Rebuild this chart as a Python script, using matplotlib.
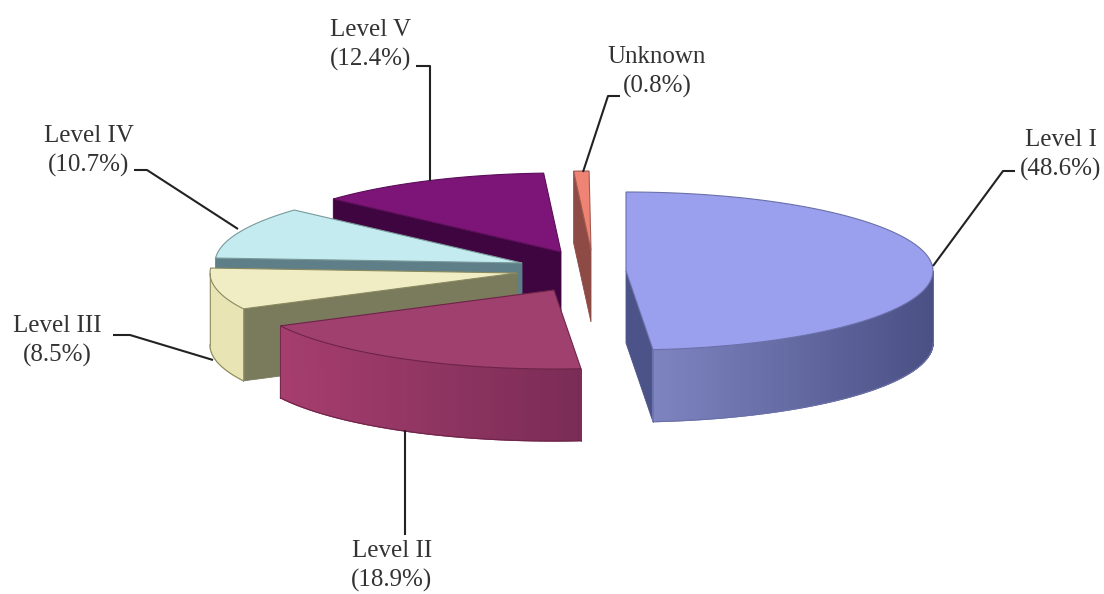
import numpy as np
import matplotlib
matplotlib.use("Agg")
import matplotlib.pyplot as plt
from matplotlib.colors import to_rgb
from matplotlib.patches import Polygon

names = ["Level I", "Level II", "Level III", "Level IV", "Level V", "Unknown"]
values = [48.6, 18.9, 8.5, 10.7, 12.4, 0.8]

# layout in image pixels
centers = [(626, 271), (554, 290), (517, 273), (522, 263), (561, 252), (591, 250)]
label_pos = [(1061, 155), (392, 566), (57, 341), (89, 151), (371, 45), (657, 72)]
leaders = [
    [(933, 266), (1003, 171), (1015, 171)],
    [(405, 430), (405, 535)],
    [(213, 360), (130, 335), (113, 335)],
    [(238, 229), (147, 170), (134, 170)],
    [(430, 181), (430, 66), (416, 66)],
    [(583, 172), (608, 96), (620, 96)],
]

top_colors = ["#9a9fee", "#a0406e", "#f0ecc4", "#c4ecf0", "#7d1478", "#f08474"]
face_colors = ["#4c5388", "#7a2c55", "#7a7a5c", "#5f7f88", "#3f0540", "#8e4a44"]
side_left = ["#7e84c0", "#a63e6e", "#e8e4b4", "#a0c0c4", "#5a0e58", "#b05a50"]
side_right = ["#4a5084", "#7a2c56", "#e8e4b4", "#a0c0c4", "#5a0e58", "#b05a50"]
edge_colors = ["#6a70a8", "#6e2448", "#8a8a60", "#7a9a9a", "#5a0e58", "#a05a50"]

RX = 307
RY = 79
DEPTH = 72


def rim(cx, cy, a0, a1, n=120):
    t = np.radians(np.linspace(a0, a1, n))
    return cx + RX * np.sin(t), cy - RY * np.cos(t)


def draw_slice(ax, i, a0, a1):
    cx, cy = centers[i]
    x, y = rim(cx, cy, a0, a1)

    # cut faces, only those turned toward the viewer
    if a0 > 180:
        px, py = x[0], y[0]
        ax.add_patch(Polygon([(cx, cy), (px, py), (px, py + DEPTH), (cx, cy + DEPTH)],
                             closed=True, fc=face_colors[i], ec=face_colors[i], lw=0.6))
    if a1 < 180:
        px, py = x[-1], y[-1]
        ax.add_patch(Polygon([(cx, cy), (px, py), (px, py + DEPTH), (cx, cy + DEPTH)],
                             closed=True, fc=face_colors[i], ec=face_colors[i], lw=0.6))

    # outer wall with horizontal shading
    lo, hi = max(a0, 90), min(a1, 270)
    if hi > lo:
        wx, wy = rim(cx, cy, lo, hi)
        c1 = np.array(to_rgb(side_left[i]))
        c2 = np.array(to_rgb(side_right[i]))
        xmin, xmax = wx.min(), wx.max()
        for k in range(len(wx) - 1):
            f = ((wx[k] + wx[k + 1]) / 2 - xmin) / (xmax - xmin)
            col = c1 + (c2 - c1) * f
            ax.add_patch(Polygon([(wx[k], wy[k]), (wx[k + 1], wy[k + 1]),
                                  (wx[k + 1], wy[k + 1] + DEPTH), (wx[k], wy[k] + DEPTH)],
                                 closed=True, fc=col, ec=col, lw=0.9))
        ax.plot(wx, wy + DEPTH, color=edge_colors[i], lw=0.8)
        ax.plot([wx[0], wx[0]], [wy[0], wy[0] + DEPTH], color=edge_colors[i], lw=0.6)
        ax.plot([wx[-1], wx[-1]], [wy[-1], wy[-1] + DEPTH], color=edge_colors[i], lw=0.6)

    # top
    ax.add_patch(Polygon(np.column_stack([np.r_[cx, x], np.r_[cy, y]]), closed=True,
                         fc=top_colors[i], ec=edge_colors[i], lw=0.8))


def main():
    fig = plt.figure(figsize=(11.04, 5.94), dpi=100)
    ax = fig.add_axes([0, 0, 1, 1])
    ax.set_xlim(0, 1104)
    ax.set_ylim(594, 0)
    ax.axis("off")

    stops = np.r_[0, np.cumsum(values)] * 3.6

    # back to front
    for i in [5, 4, 3, 2, 0, 1]:
        draw_slice(ax, i, stops[i], stops[i + 1])

    for pts in leaders:
        xs, ys = zip(*pts)
        ax.plot(xs, ys, color="#222222", lw=1.5, solid_capstyle="butt")

    for name, v, pos in zip(names, values, label_pos):
        ax.text(pos[0], pos[1], f"{name}\n({v}%)", ha="center", va="center",
                family="Liberation Serif", fontsize=18, color="#333333", linespacing=1.4)

    fig.savefig("out.png", dpi=100)
    plt.close(fig)


if __name__ == "__main__":
    main()
